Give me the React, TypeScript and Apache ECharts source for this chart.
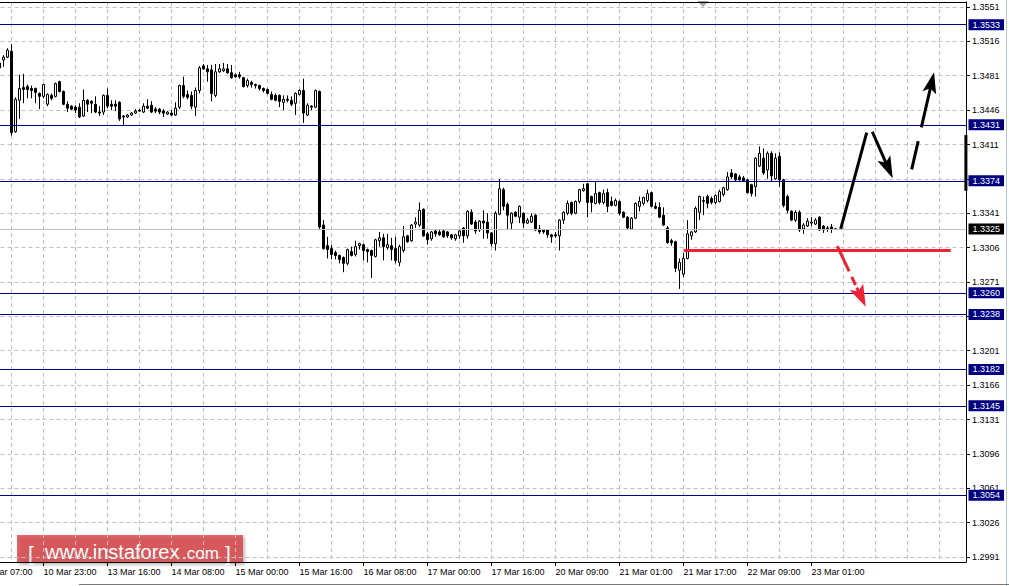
import React, { useEffect, useRef } from "react";
import * as echarts from "echarts";

// ---------- data ----------
const FIRST_BAR = 5; // bar index of the first candle (index 0 = first time label)

const OPEN = [
  1.3494, 1.3497, 1.3500, 1.3506, 1.3424, 1.3456, 1.3469, 1.3470, 1.3468, 1.3468,
  1.3463, 1.3460, 1.3452, 1.3461, 1.3460, 1.3475, 1.3465, 1.3452, 1.3450, 1.3449,
  1.3449, 1.3440, 1.3456, 1.3455, 1.3452, 1.3444, 1.3444, 1.3461, 1.3452, 1.3452,
  1.3454, 1.3440, 1.3439, 1.3441, 1.3443, 1.3445, 1.3444, 1.3450, 1.3451, 1.3447,
  1.3447, 1.3445, 1.3442, 1.3443, 1.3441, 1.3449, 1.3471, 1.3462, 1.3461, 1.3449,
  1.3466, 1.3491, 1.3488, 1.3487, 1.3461, 1.3485, 1.3486, 1.3488, 1.3484, 1.3482,
  1.3482, 1.3479, 1.3471, 1.3474, 1.3472, 1.3471, 1.3468, 1.3467, 1.3462, 1.3461,
  1.3461, 1.3454, 1.3457, 1.3456, 1.3453, 1.3462, 1.3466, 1.3441, 1.3450, 1.3449,
  1.3465, 1.3329, 1.3308, 1.3305, 1.3301, 1.3298, 1.3296, 1.3290, 1.3302, 1.3299,
  1.3308, 1.3309, 1.3304, 1.3303, 1.3297, 1.3313, 1.3316, 1.3306, 1.3308, 1.3305,
  1.3291, 1.3303, 1.3318, 1.3313, 1.3330, 1.3329, 1.3345, 1.3320, 1.3315, 1.3323,
  1.3322, 1.3323, 1.3322, 1.3319, 1.3315, 1.3318, 1.3326, 1.3318, 1.3342, 1.3332,
  1.3324, 1.3333, 1.3332, 1.3321, 1.3310, 1.3340, 1.3365, 1.3350, 1.3331, 1.3342,
  1.3337, 1.3341, 1.3331, 1.3332, 1.3339, 1.3325, 1.3324, 1.3324, 1.3319, 1.3319,
  1.3318, 1.3334, 1.3341, 1.3352, 1.3341, 1.3353, 1.3364, 1.3371, 1.3358, 1.3351,
  1.3362, 1.3352, 1.3362, 1.3353, 1.3349, 1.3353, 1.3342, 1.3337, 1.3325, 1.3336,
  1.3348, 1.3351, 1.3354, 1.3362, 1.3348, 1.3347, 1.3339, 1.3326, 1.3313, 1.3312,
  1.3283, 1.3279, 1.3295, 1.3318, 1.3322, 1.3342, 1.3353, 1.3358, 1.3356, 1.3352,
  1.3353, 1.3360, 1.3365, 1.3382, 1.3381, 1.3378, 1.3377, 1.3375, 1.3370, 1.3368,
  1.3389, 1.3397, 1.3385, 1.3402, 1.3376, 1.3399, 1.3375, 1.3358, 1.3343, 1.3334,
  1.3342, 1.3325, 1.3328, 1.3331, 1.3330, 1.3337, 1.3328, 1.3326, 1.3327, 1.3325,
];
const CLOSE = [
  1.3489, 1.3500, 1.3507, 1.3423, 1.3457, 1.3468, 1.3467, 1.3467, 1.3466, 1.3464,
  1.3460, 1.3472, 1.3462, 1.3458, 1.3473, 1.3465, 1.3452, 1.3448, 1.3447, 1.3446,
  1.3439, 1.3456, 1.3452, 1.3453, 1.3444, 1.3443, 1.3461, 1.3450, 1.3450, 1.3450,
  1.3437, 1.3439, 1.3441, 1.3443, 1.3445, 1.3446, 1.3450, 1.3448, 1.3444, 1.3445,
  1.3444, 1.3443, 1.3444, 1.3441, 1.3448, 1.3471, 1.3460, 1.3459, 1.3450, 1.3466,
  1.3489, 1.3488, 1.3485, 1.3463, 1.3485, 1.3488, 1.3488, 1.3484, 1.3479, 1.3480,
  1.3480, 1.3470, 1.3476, 1.3472, 1.3471, 1.3468, 1.3466, 1.3463, 1.3457, 1.3456,
  1.3455, 1.3457, 1.3456, 1.3452, 1.3463, 1.3466, 1.3443, 1.3451, 1.3449, 1.3466,
  1.3327, 1.3305, 1.3304, 1.3299, 1.3298, 1.3294, 1.3290, 1.3304, 1.3298, 1.3307,
  1.3310, 1.3303, 1.3302, 1.3298, 1.3314, 1.3316, 1.3307, 1.3309, 1.3304, 1.3293,
  1.3307, 1.3317, 1.3312, 1.3329, 1.3332, 1.3344, 1.3318, 1.3314, 1.3322, 1.3320,
  1.3319, 1.3317, 1.3318, 1.3316, 1.3319, 1.3323, 1.3318, 1.3343, 1.3330, 1.3323,
  1.3333, 1.3331, 1.3321, 1.3310, 1.3341, 1.3366, 1.3348, 1.3339, 1.3341, 1.3338,
  1.3348, 1.3331, 1.3334, 1.3338, 1.3324, 1.3322, 1.3322, 1.3319, 1.3317, 1.3318,
  1.3334, 1.3342, 1.3351, 1.3341, 1.3353, 1.3365, 1.3366, 1.3352, 1.3352, 1.3361,
  1.3352, 1.3361, 1.3348, 1.3349, 1.3354, 1.3341, 1.3337, 1.3326, 1.3336, 1.3351,
  1.3353, 1.3357, 1.3361, 1.3348, 1.3346, 1.3337, 1.3329, 1.3311, 1.3311, 1.3285,
  1.3291, 1.3295, 1.3320, 1.3322, 1.3346, 1.3358, 1.3354, 1.3351, 1.3352, 1.3359,
  1.3363, 1.3367, 1.3378, 1.3378, 1.3375, 1.3375, 1.3374, 1.3362, 1.3361, 1.3397,
  1.3402, 1.3382, 1.3402, 1.3379, 1.3397, 1.3375, 1.3349, 1.3344, 1.3334, 1.3342,
  1.3324, 1.3329, 1.3333, 1.3332, 1.3334, 1.3324, 1.3324, 1.3325, 1.3325, 1.3325,
];
const HIGH = [
  1.3496, 1.3502, 1.3509, 1.3513, 1.3459, 1.3482, 1.3483, 1.3472, 1.3471, 1.3469,
  1.3464, 1.3473, 1.3463, 1.3463, 1.3474, 1.3476, 1.3466, 1.3455, 1.3451, 1.3451,
  1.3453, 1.3467, 1.3457, 1.3456, 1.3460, 1.3450, 1.3462, 1.3468, 1.3456, 1.3456,
  1.3455, 1.3441, 1.3442, 1.3444, 1.3447, 1.3447, 1.3453, 1.3457, 1.3455, 1.3449,
  1.3448, 1.3447, 1.3445, 1.3446, 1.3454, 1.3472, 1.3480, 1.3466, 1.3465, 1.3469,
  1.3491, 1.3493, 1.3492, 1.3492, 1.3493, 1.3493, 1.3494, 1.3493, 1.3492, 1.3483,
  1.3485, 1.3480, 1.3478, 1.3476, 1.3473, 1.3472, 1.3469, 1.3468, 1.3465, 1.3463,
  1.3462, 1.3461, 1.3461, 1.3460, 1.3464, 1.3467, 1.3478, 1.3453, 1.3451, 1.3467,
  1.3466, 1.3334, 1.3317, 1.3309, 1.3303, 1.3299, 1.3297, 1.3305, 1.3307, 1.3313,
  1.3311, 1.3310, 1.3305, 1.3304, 1.3315, 1.3322, 1.3320, 1.3320, 1.3316, 1.3317,
  1.3309, 1.3328, 1.3319, 1.3330, 1.3337, 1.3352, 1.3346, 1.3322, 1.3323, 1.3325,
  1.3324, 1.3324, 1.3323, 1.3320, 1.3320, 1.3325, 1.3327, 1.3344, 1.3345, 1.3334,
  1.3334, 1.3344, 1.3341, 1.3322, 1.3343, 1.3376, 1.3367, 1.3352, 1.3342, 1.3343,
  1.3349, 1.3342, 1.3336, 1.3341, 1.3340, 1.3329, 1.3325, 1.3325, 1.3320, 1.3322,
  1.3335, 1.3343, 1.3354, 1.3353, 1.3354, 1.3366, 1.3371, 1.3372, 1.3359, 1.3373,
  1.3363, 1.3365, 1.3366, 1.3358, 1.3356, 1.3354, 1.3343, 1.3338, 1.3337, 1.3352,
  1.3358, 1.3358, 1.3365, 1.3363, 1.3352, 1.3352, 1.3347, 1.3328, 1.3315, 1.3313,
  1.3295, 1.3301, 1.3334, 1.3323, 1.3348, 1.3359, 1.3358, 1.3360, 1.3358, 1.3360,
  1.3365, 1.3368, 1.3383, 1.3386, 1.3382, 1.3380, 1.3379, 1.3376, 1.3371, 1.3398,
  1.3409, 1.3407, 1.3404, 1.3404, 1.3402, 1.3403, 1.3376, 1.3360, 1.3344, 1.3344,
  1.3344, 1.3331, 1.3336, 1.3337, 1.3336, 1.3338, 1.3329, 1.3328, 1.3330, 1.3326,
];
const LOW = [
  1.3485, 1.3490, 1.3499, 1.3420, 1.3423, 1.3437, 1.3453, 1.3458, 1.3458, 1.3453,
  1.3447, 1.3458, 1.3450, 1.3456, 1.3459, 1.3464, 1.3451, 1.3444, 1.3446, 1.3443,
  1.3438, 1.3439, 1.3444, 1.3443, 1.3443, 1.3440, 1.3441, 1.3448, 1.3446, 1.3445,
  1.3435, 1.3430, 1.3438, 1.3440, 1.3442, 1.3444, 1.3443, 1.3447, 1.3443, 1.3443,
  1.3442, 1.3439, 1.3441, 1.3440, 1.3440, 1.3447, 1.3458, 1.3457, 1.3447, 1.3440,
  1.3463, 1.3487, 1.3475, 1.3455, 1.3459, 1.3484, 1.3485, 1.3483, 1.3478, 1.3479,
  1.3478, 1.3469, 1.3469, 1.3469, 1.3468, 1.3466, 1.3464, 1.3462, 1.3456, 1.3455,
  1.3449, 1.3446, 1.3454, 1.3450, 1.3441, 1.3461, 1.3433, 1.3440, 1.3446, 1.3448,
  1.3324, 1.3304, 1.3295, 1.3294, 1.3294, 1.3290, 1.3281, 1.3288, 1.3297, 1.3297,
  1.3304, 1.3293, 1.3291, 1.3275, 1.3296, 1.3307, 1.3293, 1.3304, 1.3293, 1.3290,
  1.3287, 1.3301, 1.3311, 1.3312, 1.3326, 1.3327, 1.3317, 1.3309, 1.3313, 1.3317,
  1.3318, 1.3316, 1.3316, 1.3314, 1.3313, 1.3315, 1.3311, 1.3315, 1.3329, 1.3320,
  1.3322, 1.3315, 1.3315, 1.3307, 1.3303, 1.3339, 1.3344, 1.3325, 1.3324, 1.3337,
  1.3331, 1.3326, 1.3330, 1.3331, 1.3323, 1.3320, 1.3320, 1.3316, 1.3311, 1.3316,
  1.3303, 1.3330, 1.3339, 1.3339, 1.3340, 1.3351, 1.3363, 1.3337, 1.3342, 1.3350,
  1.3350, 1.3350, 1.3342, 1.3348, 1.3348, 1.3339, 1.3336, 1.3325, 1.3324, 1.3335,
  1.3343, 1.3349, 1.3352, 1.3347, 1.3345, 1.3336, 1.3328, 1.3310, 1.3308, 1.3281,
  1.3264, 1.3276, 1.3294, 1.3314, 1.3321, 1.3334, 1.3339, 1.3346, 1.3350, 1.3350,
  1.3352, 1.3358, 1.3364, 1.3376, 1.3374, 1.3374, 1.3373, 1.3361, 1.3358, 1.3358,
  1.3388, 1.3380, 1.3376, 1.3373, 1.3375, 1.3368, 1.3347, 1.3341, 1.3333, 1.3332,
  1.3322, 1.3320, 1.3327, 1.3328, 1.3329, 1.3323, 1.3321, 1.3322, 1.3321, 1.3324,
];

const TIME_LABELS = [
  "10 Mar 07:00", "10 Mar 23:00", "13 Mar 16:00", "14 Mar 08:00", "15 Mar 00:00",
  "15 Mar 16:00", "16 Mar 08:00", "17 Mar 00:00", "17 Mar 16:00", "20 Mar 09:00",
  "21 Mar 01:00", "21 Mar 17:00", "22 Mar 09:00", "23 Mar 01:00",
];
const BARS_PER_LABEL = 16;
const BARS_PER_GRIDLINE = 8;
const BAR_AXIS_MIN = 0;
const BAR_AXIS_MAX = 246.625;

const PRICE_TICK_MIN = 1.2991;
const PRICE_TICK_MAX = 1.3551;
const PRICE_TICK_STEP = 0.0035;
const PRICE_VIEW_MIN = 1.298591;
const PRICE_VIEW_MAX = 1.355609;

const LEVELS = [1.3533, 1.3431, 1.3374, 1.326, 1.3238, 1.3182, 1.3145, 1.3054];
const CURRENT_PRICE = 1.3325;

// analyst's drawings: [fromBar, fromPrice, toBar, toPrice]
const RED_LEVEL = [176.1, 1.3303, 242.8, 1.3303];
const UP_LEG = [215.3, 1.3325, 221.8, 1.3423];
const DOWN_ARROW = [223.2, 1.3424, 228.3, 1.33766];
const DASHED_UP_ARROW = [233.05, 1.33857, 238.63, 1.34845];
const RED_DOWN_ARROW = [214.45, 1.33076, 221.55, 1.32458];
const EDGE_BAR = [246.6, 1.34206, 246.6, 1.33639];

// ---------- styles ----------
const FONT = '"Liberation Sans", Arial, sans-serif';
const NAVY = "#000080";
const RED = "#ee2233";
const GRID_GRAY = "#c0c0c0";

const DRAWINGS = [
  { seg: RED_LEVEL, color: RED, dash: null, head: null },
  { seg: UP_LEG, color: "#000000", dash: null, head: null },
  { seg: EDGE_BAR, color: "#000000", dash: null, head: null },
  { seg: DOWN_ARROW, color: "#000000", dash: null, head: [22, 14] },
  { seg: DASHED_UP_ARROW, color: "#000000", dash: [29, 14, 200], head: [21, 14] },
  { seg: RED_DOWN_ARROW, color: RED, dash: [28, 6, 9, 3, 200], head: [22, 15] },
];

export default function App() {
  const ref = useRef<HTMLDivElement>(null);

  useEffect(() => {
    const chart = echarts.init(ref.current!, null, { renderer: "svg", width: 1009, height: 586 });

    const candles = OPEN.map((o, i) => [FIRST_BAR + i, o, CLOSE[i], LOW[i], HIGH[i]]);
    const labelValues = TIME_LABELS.map((_, i) => i * BARS_PER_LABEL);

    const boxLabel = {
      show: true,
      position: "end",
      distance: 2.5,
      formatter: (p: any) => Number(p.value).toFixed(4),
      color: "#ffffff",
      backgroundColor: NAVY,
      padding: [1, 4, 0, 4],
      fontSize: 9,
      lineHeight: 10,
      fontFamily: FONT,
    };

    const renderDrawing = (params: any, api: any) => {
      const d = DRAWINGS[params.dataIndex];
      const p0 = api.coord([api.value(0), api.value(1)]);
      const p1 = api.coord([api.value(2), api.value(3)]);
      const dx = p1[0] - p0[0];
      const dy = p1[1] - p0[1];
      const len = Math.hypot(dx, dy) || 1;
      const ux = dx / len;
      const uy = dy / len;
      const children: any[] = [];
      let end = p1;
      if (d.head) {
        const hl = d.head[0];
        const hw = d.head[1] / 2;
        const base = [p1[0] - ux * hl, p1[1] - uy * hl];
        const notch = [p1[0] - ux * hl * 0.78, p1[1] - uy * hl * 0.78];
        end = [p1[0] - ux * hl * 0.6, p1[1] - uy * hl * 0.6];
        children.push({
          type: "polygon",
          z2: 2,
          shape: {
            points: [
              p1,
              [base[0] - uy * hw, base[1] + ux * hw],
              notch,
              [base[0] + uy * hw, base[1] - ux * hw],
            ],
          },
          style: { fill: d.color },
        });
      }
      children.push({
        type: "line",
        z2: 1,
        shape: { x1: p0[0], y1: p0[1], x2: end[0], y2: end[1] },
        style: { stroke: d.color, lineWidth: 3, lineDash: d.dash || undefined, fill: null },
      });
      return { type: "group", children };
    };

    const option: any = {
      animation: false,
      backgroundColor: "#ffffff",
      grid: [
        { left: -20.5, right: 43, top: 2, bottom: 24, outerBoundsMode: "none", containLabel: false },
        { left: -20.5, right: 43, top: 7, bottom: 29, outerBoundsMode: "none", containLabel: false },
      ],
      xAxis: [
        {
          type: "value",
          gridIndex: 0,
          position: "bottom",
          min: BAR_AXIS_MIN,
          max: BAR_AXIS_MAX,
          interval: BARS_PER_LABEL,
          axisLine: { show: true, onZero: false, lineStyle: { color: "#000", width: 1 } },
          axisTick: { show: true, length: 4, customValues: labelValues, lineStyle: { color: "#000" } },
          axisLabel: {
            show: true,
            customValues: labelValues,
            align: "left",
            margin: 5,
            color: "#000",
            fontSize: 9,
            fontFamily: FONT,
            hideOverlap: false,
            formatter: (v: number) => {
              const k = Math.round(v / BARS_PER_LABEL);
              return Math.abs(v - k * BARS_PER_LABEL) < 0.01 && TIME_LABELS[k] ? TIME_LABELS[k] : "";
            },
          },
          splitLine: { show: false },
        },
        {
          type: "value",
          gridIndex: 0,
          position: "top",
          min: BAR_AXIS_MIN,
          max: BAR_AXIS_MAX,
          interval: BARS_PER_GRIDLINE,
          axisLine: { show: true, onZero: false, lineStyle: { color: "#000", width: 1 } },
          axisTick: { show: false },
          axisLabel: { show: false },
          splitLine: { show: true, lineStyle: { color: GRID_GRAY, width: 1, type: [4, 3] } },
        },
        { type: "value", gridIndex: 1, min: BAR_AXIS_MIN, max: BAR_AXIS_MAX, show: false },
      ],
      yAxis: [
        {
          type: "value",
          gridIndex: 0,
          position: "right",
          min: PRICE_VIEW_MIN,
          max: PRICE_VIEW_MAX,
          axisLine: { show: true, onZero: false, lineStyle: { color: "#000", width: 1 } },
          axisTick: { show: false },
          axisLabel: { show: false },
          splitLine: { show: false },
        },
        {
          type: "value",
          gridIndex: 1,
          position: "right",
          min: PRICE_TICK_MIN,
          max: PRICE_TICK_MAX,
          interval: PRICE_TICK_STEP,
          axisLine: { show: false, onZero: false },
          axisTick: { show: true, length: 4, lineStyle: { color: "#000" } },
          axisLabel: {
            show: true,
            margin: 6,
            color: "#000",
            fontSize: 9,
            fontFamily: FONT,
            formatter: (v: number) => v.toFixed(4),
          },
          splitLine: { show: true, lineStyle: { color: GRID_GRAY, width: 1, type: [4, 3] } },
        },
      ],
      series: [
        {
          type: "candlestick",
          xAxisIndex: 0,
          yAxisIndex: 0,
          data: candles,
          encode: { x: 0, y: [1, 2, 3, 4] },
          barWidth: 3,
          silent: true,
          itemStyle: {
            color: "#ffffff",
            color0: "#000000",
            borderColor: "#000000",
            borderColor0: "#000000",
            borderColorDoji: "#000000",
            borderWidth: 1,
          },
          markLine: {
            silent: true,
            symbol: "none",
            animation: false,
            precision: 4,
            label: boxLabel,
            data: [
              ...LEVELS.map((v) => ({
                yAxis: v,
                lineStyle: { color: NAVY, width: 1, type: "solid", opacity: 1 },
              })),
              {
                yAxis: CURRENT_PRICE,
                lineStyle: { color: GRID_GRAY, width: 1, type: "solid", opacity: 1 },
                label: { ...boxLabel, backgroundColor: "#000000" },
              },
            ],
          },
        },
        {
          type: "custom",
          coordinateSystem: "cartesian2d",
          xAxisIndex: 0,
          yAxisIndex: 0,
          silent: true,
          clip: false,
          z: 6,
          encode: { x: [0, 2], y: [1, 3] },
          data: DRAWINGS.map((d) => d.seg),
          renderItem: renderDrawing,
        },
      ],
      graphic: [
        {
          type: "polygon",
          silent: true,
          shape: { points: [[697, 1], [709, 1], [703, 7]] },
          style: { fill: "#a8a8a8" },
        },
        {
          type: "line",
          silent: true,
          shape: { x1: 1006.5, y1: 0, x2: 1006.5, y2: 586 },
          style: { stroke: "#b4c6e0", lineWidth: 1 },
        },
        {
          type: "line",
          silent: true,
          shape: { x1: 79, y1: 584.5, x2: 1009, y2: 584.5 },
          style: { stroke: "#7a7a7a", lineWidth: 1 },
        },
        {
          type: "group",
          silent: true,
          z: 100,
          children: [
            {
              type: "rect",
              shape: { x: 17, y: 535, width: 226, height: 28 },
              style: {
                fill: "rgba(214, 45, 52, 0.72)",
                shadowBlur: 3,
                shadowOffsetX: 2,
                shadowOffsetY: 2,
                shadowColor: "rgba(0,0,0,0.35)",
              },
            },
            {
              type: "text",
              style: { text: "[", x: 28, y: 553, fill: "#fff", font: `21px ${FONT}`, verticalAlign: "middle" },
            },
            {
              type: "text",
              style: { text: "www.instaforex", x: 45, y: 552, fill: "#fff", font: `20px ${FONT}`, verticalAlign: "middle" },
            },
            {
              type: "text",
              style: { text: ".com", x: 182, y: 553.5, fill: "#fff", font: `17px ${FONT}`, verticalAlign: "middle" },
            },
            {
              type: "text",
              style: { text: "]", x: 225, y: 553, fill: "#fff", font: `21px ${FONT}`, verticalAlign: "middle" },
            },
          ],
        },
      ],
    };

    chart.setOption(option);
    return () => chart.dispose();
  }, []);

  return (
    <div
      ref={ref}
      style={{ position: "fixed", left: 0, top: 0, width: 1009, height: 586, background: "#fff" }}
    />
  );
}
